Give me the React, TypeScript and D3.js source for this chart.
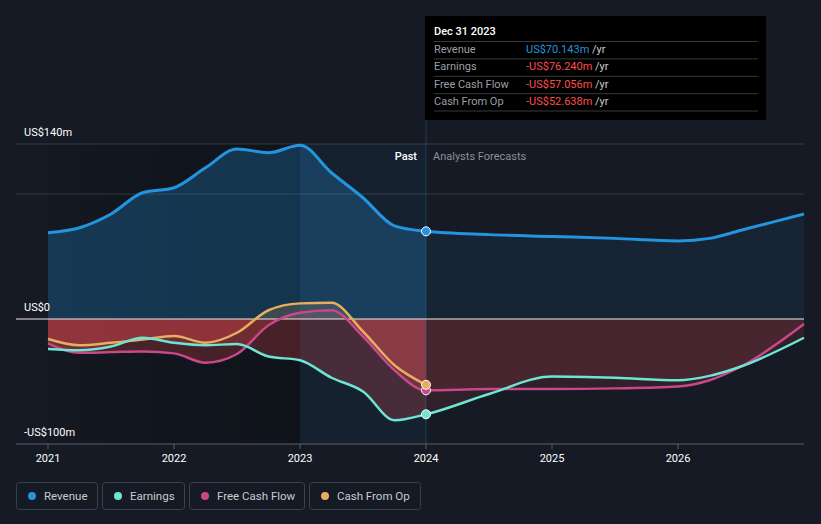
import * as d3 from "d3";
import React from "react";

// decimal years
const pastDates = [2021.0, 2021.25, 2021.5, 2021.75, 2022.0, 2022.25, 2022.5, 2022.75, 2023.0, 2023.25, 2023.5, 2023.75, 2024.0];
const revenuePast = [69, 73, 84, 101, 105, 121, 136, 133, 139, 117, 97, 74.5, 70.143];
const earningsPast = [-24, -25, -22, -15, -19, -21, -20, -30, -33, -47, -58, -81, -76.24];
const fcfPast = [-19.5, -27, -26.5, -26, -27.5, -35, -28, -5, 5, 7, -14, -41, -57.056];
const cfoPast = [-16, -21, -19, -16.5, -13.6, -19, -11, 7, 12.5, 13, -10, -37, -52.638];

const forecastDates = [2024.0, 2024.5, 2025.0, 2025.5, 2026.0, 2026.25, 2026.5, 2027.0];
const revenueForecast = [70.143, 67.5, 66, 64.5, 62.5, 64.5, 71, 84];
const earningsForecast = [-76.24, -60, -46, -47, -49, -45.5, -38, -15];
const fcfForecast = [-57.056, -56, -56, -55.5, -54, -49, -38, -4];

const yearTicks = [2021, 2022, 2023, 2024, 2025, 2026];
const yLabels = [
  { v: 140, t: "US$140m" },
  { v: 0, t: "US$0" },
  { v: -100, t: "-US$100m" },
];
const gridValues = [140, 100];

const tooltipTitle = "Dec 31 2023";
const tooltipRows = [
  { label: "Revenue", value: "US$70.143m", color: "#2394df" },
  { label: "Earnings", value: "-US$76.240m", color: "#ff4d4d" },
  { label: "Free Cash Flow", value: "-US$57.056m", color: "#ff4d4d" },
  { label: "Cash From Op", value: "-US$52.638m", color: "#ff4d4d" },
];

const legendItems = [
  { name: "Revenue", color: "#2394df", w: 81 },
  { name: "Earnings", color: "#6ce5d2", w: 82 },
  { name: "Free Cash Flow", color: "#c9478a", w: 115 },
  { name: "Cash From Op", color: "#e8ae5f", w: 111 },
];

type Pt = { t: number; v: number };
const zip = (ts: number[], vs: number[]): Pt[] => ts.map((t, i) => ({ t, v: vs[i] }));

const W = 821;
const H = 524;
const BG = "#151a24";
const FONT = "Roboto, 'Noto Sans', sans-serif";

export default function App() {
  const x = d3.scaleLinear().domain([2021, 2027]).range([48, 804]);
  const y = d3.scaleLinear().domain([-100, 140]).range([444, 144]);
  const y0 = y(0);
  const xNow = x(2024);
  const gradStop = (xNow - x(2021)) / (x(2027) - x(2021));

  const revenue = zip(pastDates, revenuePast).concat(zip(forecastDates, revenueForecast).slice(1));
  const earnings = zip(pastDates, earningsPast).concat(zip(forecastDates, earningsForecast).slice(1));
  const fcf = zip(pastDates, fcfPast).concat(zip(forecastDates, fcfForecast).slice(1));
  const cfo = zip(pastDates, cfoPast);

  const line = d3
    .line<Pt>()
    .x((d) => x(d.t))
    .y((d) => y(d.v))
    .curve(d3.curveMonotoneX);
  const area = d3
    .area<Pt>()
    .x((d) => x(d.t))
    .y0(y0)
    .y1((d) => y(d.v))
    .curve(d3.curveMonotoneX);

  const others = [
    { data: earnings, color: legendItems[1].color, last: earningsPast[earningsPast.length - 1] },
    { data: fcf, color: legendItems[2].color, last: fcfPast[fcfPast.length - 1] },
    { data: cfo, color: legendItems[3].color, last: cfoPast[cfoPast.length - 1] },
  ];

  let lx = 16;
  const legendPos = legendItems.map((it) => {
    const p = lx;
    lx += it.w + 5;
    return p;
  });

  return (
    <svg width={W} height={H} style={{ position: "absolute", left: 0, top: 0, fontFamily: FONT }}>
      <defs>
        <linearGradient id="revGrad" gradientUnits="userSpaceOnUse" x1={x(2021)} x2={x(2027)} y1={0} y2={0}>
          <stop offset={0} stopColor="#2394df" stopOpacity={0.26} />
          <stop offset={gradStop} stopColor="#2394df" stopOpacity={0.27} />
          <stop offset={gradStop} stopColor="#2394df" stopOpacity={0.08} />
          <stop offset={1} stopColor="#2394df" stopOpacity={0.08} />
        </linearGradient>
        <linearGradient id="redGrad" gradientUnits="userSpaceOnUse" x1={x(2021)} x2={x(2027)} y1={0} y2={0}>
          <stop offset={0} stopColor="#e5484d" stopOpacity={0.26} />
          <stop offset={gradStop} stopColor="#e5484d" stopOpacity={0.26} />
          <stop offset={gradStop} stopColor="#e5484d" stopOpacity={0.13} />
          <stop offset={1} stopColor="#e5484d" stopOpacity={0.13} />
        </linearGradient>
        <linearGradient id="darkGrad" x1={0} x2={1} y1={0} y2={0}>
          <stop offset={0} stopColor="#000" stopOpacity={0.08} />
          <stop offset={1} stopColor="#000" stopOpacity={0.3} />
        </linearGradient>
        <clipPath id="above">
          <rect x={0} y={0} width={W} height={y0} />
        </clipPath>
        <clipPath id="below">
          <rect x={0} y={y0} width={W} height={H - y0} />
        </clipPath>
      </defs>

      <rect width={W} height={H} fill={BG} />

      {/* darker past */}
      <rect x={x(2021)} y={y(140)} width={x(2023) - x(2021)} height={y(-100) - y(140)} fill="url(#darkGrad)" />

      {gridValues.map((g) => (
        <line key={g} x1={16} x2={804} y1={y(g)} y2={y(g)} stroke="#fff" strokeOpacity={0.14} />
      ))}

      <path d={area(revenue) || ""} fill="url(#revGrad)" />
      {others.map((s, i) => (
        <g key={i}>
          <path d={area(s.data) || ""} fill="url(#redGrad)" clipPath="url(#below)" />
          <path d={area(s.data) || ""} fill={s.color} fillOpacity={0.18} clipPath="url(#above)" />
        </g>
      ))}

      {/* past highlight band */}
      <rect x={x(2023)} y={y(140)} width={xNow - x(2023)} height={y(-100) - y(140)} fill="#2a7fc0" fillOpacity={0.07} />
      <line x1={xNow} x2={xNow} y1={16} y2={444} stroke="#2a6a9a" strokeOpacity={0.45} />

      <line x1={16} x2={804} y1={y0} y2={y0} stroke="#f4e6e6" strokeWidth={1.2} />
      <line x1={16} x2={804} y1={444} y2={444} stroke="#5a5f68" />
      {yearTicks.map((t) => (
        <g key={t}>
          <line x1={x(t)} x2={x(t)} y1={444} y2={449} stroke="#5a5f68" />
          <text x={x(t)} y={462} fill="#fff" fontSize={11} textAnchor="middle">
            {t}
          </text>
        </g>
      ))}

      {yLabels.map((l) => (
        <text key={l.t} x={24} y={y(l.v) - 8} fill="#fff" fontSize={11}>
          {l.t}
        </text>
      ))}

      <text x={xNow - 9} y={160} fill="#fff" fontSize={11} fontWeight={500} textAnchor="end">
        Past
      </text>
      <text x={xNow + 7} y={160} fill="#8b9099" fontSize={11}>
        Analysts Forecasts
      </text>

      {[...others].reverse().map((s, i) => (
        <path key={i} d={line(s.data) || ""} fill="none" stroke={s.color} strokeWidth={2.5} />
      ))}
      <path d={line(revenue) || ""} fill="none" stroke={legendItems[0].color} strokeWidth={3} />

      {[
        { v: revenuePast[revenuePast.length - 1], c: legendItems[0].color },
        ...others.map((s) => ({ v: s.last, c: s.color })),
      ].map((d, i) => (
        <circle key={i} cx={xNow} cy={y(d.v)} r={4.5} fill={d.c} stroke="#fff" strokeWidth={1} />
      ))}

      {/* tooltip */}
      <rect x={425} y={16} width={341} height={104} fill="#000" />
      <text x={434} y={35} fill="#fff" fontSize={11} fontWeight={500}>
        {tooltipTitle}
      </text>
      {tooltipRows.map((r, i) => (
        <g key={r.label}>
          <line x1={434} x2={758} y1={41.5 + i * 17.4} y2={41.5 + i * 17.4} stroke="#fff" strokeOpacity={0.22} />
          <text x={434} y={53 + i * 17.4} fill="#9a9fa7" fontSize={11}>
            {r.label}
          </text>
          <text x={526} y={53 + i * 17.4} fontSize={11}>
            <tspan fill={r.color}>{r.value}</tspan>
            <tspan fill="#c8ccd2"> /yr</tspan>
          </text>
        </g>
      ))}
      <line x1={434} x2={758} y1={111} y2={111} stroke="#fff" strokeOpacity={0.22} />

      {/* legend */}
      {legendItems.map((it, i) => (
        <g key={it.name} transform={`translate(${legendPos[i]},482)`}>
          <rect x={0.5} y={0.5} width={it.w} height={27} rx={3} fill="none" stroke="#3b414c" />
          <circle cx={16} cy={14} r={4} fill={it.color} />
          <text x={28} y={18} fill="#c8ccd2" fontSize={11.5}>
            {it.name}
          </text>
        </g>
      ))}
    </svg>
  );
}
